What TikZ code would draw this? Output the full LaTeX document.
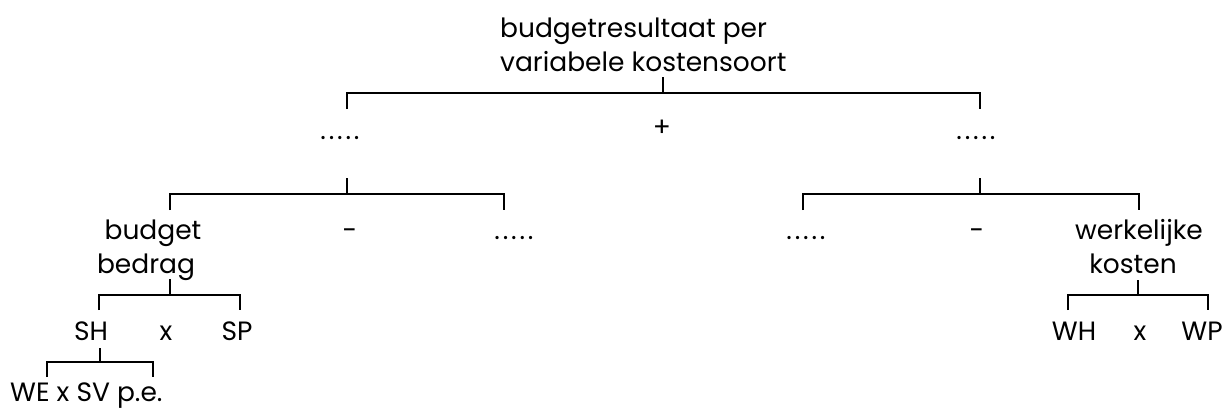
\documentclass[tikz,border=0pt]{standalone}
\usepackage{fontspec}
\setmainfont{Poppins}
\newcommand{\fivedots}{.\kern2.8pt.\kern2.8pt.\kern2.8pt.\kern2.8pt.}
\begin{document}
\begin{tikzpicture}[x=1pt,y=-1pt,
  lbl/.style={inner sep=0pt,anchor=base,font=\fontsize{26.5}{32}\selectfont},
  lblw/.style={lbl,anchor=base west},
  brk/.style={line width=2pt,line cap=butt,line join=miter}]
\useasboundingbox (0,0) rectangle (1229,410);
% texts
\node[lblw] (t1) at (500,37) {budgetresultaat per};
\node[lblw] (t2) at (500,71) {variabele kostensoort};
\node[lbl] (d1) at (340,139) {\fivedots};
\node[lbl] (plus) at (662,136) {+};
\node[lbl] (d2) at (976,139) {\fivedots};
\node[lbl] (bud1) at (153,239) {budget};
\node[lbl] (bud2) at (146,273) {bedrag};
\node[lbl] (m1) at (350,239) {-};
\node[lbl] (d3) at (514,239) {\fivedots};
\node[lbl] (d4) at (806,239) {\fivedots};
\node[lbl] (m2) at (977,239) {-};
\node[lbl] (wk1) at (1139,239) {werkelijke};
\node[lbl] (wk2) at (1133,273) {kosten};
\node[lbl] (sh) at (91,340) {SH};
\node[lbl] (x1) at (166,340) {x};
\node[lbl] (sp) at (237,340) {SP};
\node[lbl] (wh) at (1074,340) {WH};
\node[lbl] (x2) at (1140,340) {x};
\node[lbl] (wp) at (1202,340) {WP};
\node[lblw] (we) at (10,401) {WE x SV p.e.};
% bracket coordinates
\coordinate (s0) at (663,77);  \coordinate (j0) at (663,93);
\coordinate (L0) at (347,109); \coordinate (R0) at (980,109);
\coordinate (s1) at (347,178); \coordinate (j1) at (347,194);
\coordinate (L1) at (170,210); \coordinate (R1) at (504,210);
\coordinate (s2) at (980,178); \coordinate (j2) at (980,194);
\coordinate (L2) at (803,210); \coordinate (R2) at (1139,210);
\coordinate (s3) at (170,279); \coordinate (j3) at (170,295);
\coordinate (L3) at (99,310);  \coordinate (R3) at (240,310);
\coordinate (s4) at (1138,280); \coordinate (j4) at (1138,295);
\coordinate (L4) at (1068,310); \coordinate (R4) at (1208,310);
\coordinate (s5) at (100,348); \coordinate (j5) at (100,362);
\coordinate (L5) at (47,377);  \coordinate (R5) at (153,377);
\foreach \i in {0,...,5}{
  \draw[brk] (s\i) -- (j\i);
  \draw[brk] (L\i) -- (L\i |- j\i) -- (R\i |- j\i) -- (R\i);
}
\end{tikzpicture}
\end{document}
